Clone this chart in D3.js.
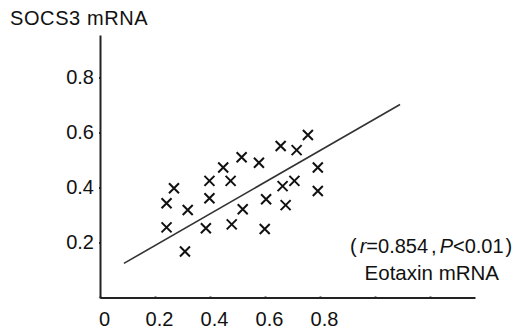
<!DOCTYPE html>
<html><head><meta charset="utf-8">
<script src="https://cdn.jsdelivr.net/npm/d3@7"></script>
<style>
html,body{margin:0;padding:0;background:#fff;}
svg{display:block;font-family:"Liberation Sans",Arial,sans-serif;}
</style></head>
<body>
<svg id="chart" width="528" height="330"></svg>
<script>
const eotaxin = [0.242,0.269,0.242,0.319,0.309,0.398,0.398,0.385,0.448,0.475,0.479,0.515,0.519,0.578,0.604,0.599,0.657,0.664,0.675,0.707,0.715,0.756,0.792,0.792];
const socs3   = [0.343,0.397,0.255,0.318,0.167,0.424,0.361,0.252,0.473,0.424,0.266,0.510,0.321,0.490,0.357,0.249,0.551,0.405,0.336,0.424,0.536,0.591,0.473,0.387];
const fitX = [0.087, 1.091];
const fitY = [0.124, 0.702];
const xTicks = [0,0.2,0.4,0.6,0.8,1.0,1.2];
const xTickLabels = ["0","0.2","0.4","0.6","0.8","",""];
const yTicks = [0.2,0.4,0.6,0.8];
const yTickLabels = ["0.2","0.4","0.6","0.8"];
const yTitle = "SOCS3 mRNA";
const xTitle = "Eotaxin mRNA";

const svg = d3.select("#chart");
const x = d3.scaleLinear().domain([0, 375/275]).range([100, 475]);
const y = d3.scaleLinear().domain([0, 262.5/275]).range([297.5, 35]);
const ink = "#222";

const xa = svg.append("g").attr("transform","translate(0,297.5)")
  .call(d3.axisBottom(x).tickValues(xTicks).tickSize(2).tickSizeOuter(0).tickPadding(12)
    .tickFormat((d,i)=>xTickLabels[i]));
xa.select(".domain").attr("stroke",ink).attr("stroke-width",2);
xa.selectAll(".tick line").attr("stroke",ink).attr("stroke-width",2).attr("y1",-1).attr("y2",1);
xa.selectAll(".tick text").attr("font-size",20).attr("fill","#111").attr("dx",4)
  .attr("font-family","'Liberation Sans',Arial,sans-serif");

const ya = svg.append("g").attr("transform","translate(100,0)")
  .call(d3.axisLeft(y).tickValues(yTicks).tickSize(2).tickSizeOuter(0).tickPadding(4)
    .tickFormat((d,i)=>yTickLabels[i]));
ya.select(".domain").attr("stroke",ink).attr("stroke-width",2);
ya.selectAll(".tick line").attr("stroke",ink).attr("stroke-width",2).attr("x1",-1).attr("x2",1);
ya.selectAll(".tick text").attr("font-size",20).attr("fill","#111")
  .attr("font-family","'Liberation Sans',Arial,sans-serif");

// fit line
svg.append("line")
  .attr("x1",x(fitX[0])).attr("y1",y(fitY[0]))
  .attr("x2",x(fitX[1])).attr("y2",y(fitY[1]))
  .attr("stroke","#333").attr("stroke-width",1.6);

// markers
const s = 5;
svg.append("g").selectAll("path").data(eotaxin.map((v,i)=>[v,socs3[i]])).join("path")
  .attr("d", d => {
    const cx = x(d[0]), cy = y(d[1]);
    return `M${cx-s},${cy-s}L${cx+s},${cy+s}M${cx-s},${cy+s}L${cx+s},${cy-s}`;
  })
  .attr("stroke","#111").attr("stroke-width",2).attr("fill","none");

svg.append("text").attr("x",10).attr("y",25).attr("font-size",20).attr("letter-spacing",0.6).attr("fill","#111").text(yTitle);

const ann = svg.append("text").attr("x",350).attr("y",253).attr("font-size",20).attr("fill","#111");
ann.append("tspan").text("(");
ann.append("tspan").attr("dx",3).attr("font-style","italic").text("r");
ann.append("tspan").text("=0.854");
ann.append("tspan").attr("dx",3).text(",");
ann.append("tspan").attr("dx",3).attr("font-style","italic").text("P");
ann.append("tspan").text("<0.01");
ann.append("tspan").attr("dx",2).text(")");

svg.append("text").attr("x",499).attr("y",280).attr("text-anchor","end").attr("font-size",20.5).attr("fill","#111").text(xTitle);
</script>
</body></html>
